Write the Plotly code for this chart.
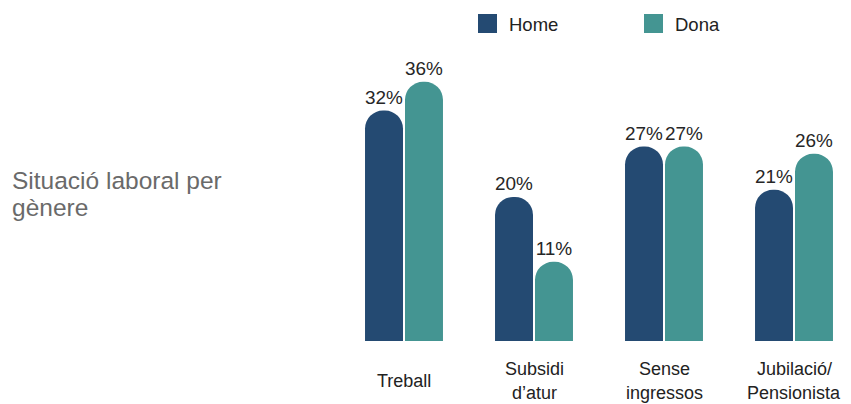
import plotly.graph_objects as go

categories = ["Treball", "Subsidi<br>d’atur", "Sense<br>ingressos", "Jubilació/<br>Pensionista"]
home = [32, 20, 27, 21]
dona = [36, 11, 27, 26]
series_names = ["Home", "Dona"]
title_lines = ["Situació laboral per", "gènere"]

HOME_C = "#244a72"
DONA_C = "#449592"
COLORS = [HOME_C, DONA_C]
FONT = "Liberation Sans, Arial, sans-serif"

W, H = 851, 404
ML, MR, MT, MB = 340, 6, 53, 63
PW = W - ML - MR
PH = H - MT - MB


def px_x(p):
    return (p - ML) / PW


def px_y(p):
    return (H - MB - p) / PH


cat_idx = list(range(len(categories)))

fig = go.Figure()
for name, vals, col in zip(series_names, [home, dona], COLORS):
    fig.add_trace(go.Bar(
        x=cat_idx, y=vals, name=name, marker=dict(color=col, line=dict(width=0)),
        text=[f"{v}%" for v in vals], textposition="outside", cliponaxis=False,
        textfont=dict(size=19, color="#262626", family=FONT),
        showlegend=False, hoverinfo="skip",
    ))

# category labels (one annotation per line for exact line spacing)
for i, lab in enumerate(categories):
    lines = lab.split("<br>")
    n = len(lines)
    for j, ln in enumerate(lines):
        yc = 381 + (j - (n - 1) / 2) * 24
        fig.add_annotation(x=i, y=px_y(yc), xref="x", yref="paper", text=ln, showarrow=False,
                           xanchor="center", yanchor="middle",
                           font=dict(size=18, color="#222222", family=FONT))

# title at left
for j, ln in enumerate(title_lines):
    fig.add_annotation(x=px_x(10), y=px_y(180.5 + 27 * j), xref="paper", yref="paper", text=ln,
                       showarrow=False, xanchor="left", yanchor="middle", align="left",
                       font=dict(size=24.5, color="#6a6a6a", family=FONT))

# manual legend
leg_x = [478, 644]
for name, col, lx in zip(series_names, COLORS, leg_x):
    fig.add_shape(type="rect", xref="paper", yref="paper",
                  x0=px_x(lx), x1=px_x(lx + 19), y0=px_y(33), y1=px_y(14),
                  fillcolor=col, line=dict(width=0))
    fig.add_annotation(x=px_x(lx + 29), y=px_y(24), xref="paper", yref="paper", text=name,
                       showarrow=False, xanchor="left", yanchor="middle",
                       font=dict(size=18.5, color="#222222", family=FONT))

fig.update_layout(
    width=W, height=H,
    margin=dict(l=ML, r=MR, t=MT, b=MB, autoexpand=False),
    paper_bgcolor="white", plot_bgcolor="white",
    barmode="group", bargap=0.385, bargroupgap=0.05, barcornerradius="50%",
    xaxis=dict(range=[-0.4923, 3.3923], showticklabels=False, showgrid=False,
               zeroline=False, showline=False, fixedrange=True),
    yaxis=dict(range=[0, 40], visible=False, fixedrange=True),
    font=dict(family=FONT),
    showlegend=False,
)

fig.write_html("out.html", config={"displayModeBar": False},
               post_script="document.body.style.margin='0';document.body.style.overflow='hidden';")
